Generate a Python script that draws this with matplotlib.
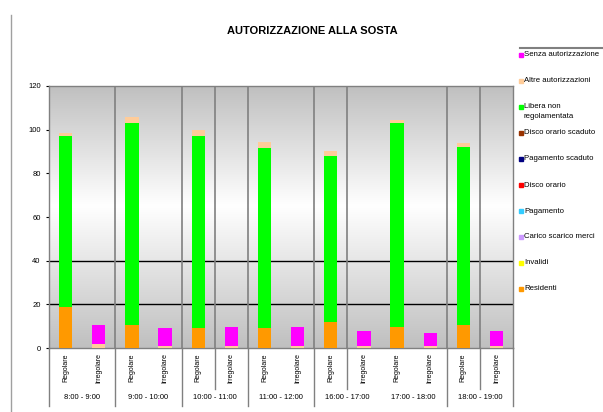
import numpy as np
import matplotlib
matplotlib.use("Agg")
from matplotlib import pyplot as plt
from matplotlib.patches import Rectangle
from matplotlib.lines import Line2D
import matplotlib.transforms as mtransforms

plt.rcParams['font.family'] = ['Liberation Sans', 'DejaVu Sans']

# categorie (coppie Regolare / Irregolare per fascia oraria)
fasce = ["8:00 - 9:00", "9:00 - 10:00", "10:00 - 11:00", "11:00 - 12:00",
         "16:00 - 17:00", "17:00 - 18:00", "18:00 - 19:00"]
tipi = ["Regolare", "Irregolare"]

# serie (dal basso verso l'alto)
residenti     = [19, 0, 10.5, 0, 9, 0, 9, 0, 12, 0, 9.5, 0, 10.5, 0]
invalidi      = [0, 0, 0, 0, 0, 0, 0, 0, 0, 0, 0, 0, 0, 0]
carico        = [0, 0, 0, 0, 0, 0, 0, 0, 0, 0, 0, 0, 0, 0]
pagamento     = [0, 0, 0, 0, 0, 0, 0, 0, 0, 0, 0, 0, 0, 0]
disco         = [0, 0, 0, 0, 0, 0, 0, 0, 0, 0, 0, 0, 0, 0]
pag_scaduto   = [0, 0, 0, 0, 0, 0, 0, 0, 0, 0, 0, 0, 0, 0]
disco_scaduto = [0, 0, 0, 0, 0, 0, 0, 0, 0, 0, 0, 0, 0, 0]
libera        = [78, 0, 92.5, 0, 88, 0, 82.5, 0, 76, 0, 93.5, 0, 81.5, 0]
altre         = [1.5, 2, 3, 1, 2.7, 1, 3, 1, 2, 1, 1.5, 1, 2, 1]
senza         = [0, 8.5, 0, 8, 0, 8.5, 0, 8.5, 0, 6.8, 0, 5.7, 0, 6.8]

serie = [
    ("Residenti", residenti, "#ff9900"),
    ("Invalidi", invalidi, "#ffff00"),
    ("Carico scarico merci", carico, "#cc99ff"),
    ("Pagamento", pagamento, "#33ccff"),
    ("Disco orario", disco, "#ff0000"),
    ("Pagamento scaduto", pag_scaduto, "#000080"),
    ("Disco orario scaduto", disco_scaduto, "#993300"),
    ("Libera non\nregolamentata", libera, "#00ff00"),
    ("Altre autorizzazioni", altre, "#ffcc99"),
    ("Senza autorizzazione", senza, "#ff00ff"),
]

fig = plt.figure(figsize=(6.03, 4.12), dpi=100)
ax = fig.add_axes([0.0813, 0.1553, 0.7695, 0.636])

n = len(fasce) * len(tipi)
x = np.arange(n) + 0.5

# sfondo sfumato grigio-bianco-grigio
v = np.linspace(120, 0, 300)
g = np.where(v > 65, 1 - 0.25 * (v - 65) / 55, 1 - 0.25 * (65 - v) / 65)
ax.imshow(np.dstack([g, g, g]).reshape(300, 1, 3), extent=[0, n, 0, 120],
          aspect='auto', zorder=0)

bottom = np.zeros(n)
for nome, vals, col in serie:
    vals = np.array(vals, dtype=float)
    ax.bar(x, vals, 0.4, bottom=bottom, color=col, zorder=3)
    bottom += vals

for yv in [20, 40]:
    ax.axhline(yv, color='black', lw=1, zorder=2)
for xv in [2, 4, 5, 6, 8, 9, 12, 13]:
    ax.axvline(xv, color='#808080', lw=1.2, zorder=2)

ax.set_xlim(0, n)
ax.set_ylim(0, 120)
ax.set_yticks(range(0, 121, 20))
ax.set_xticks([])
ax.tick_params(axis='y', labelsize=5.5, length=2, color='black', pad=4)
for s in ax.spines.values():
    s.set_color('#808080')
    s.set_linewidth(1)

# etichette a due livelli sotto l'asse
tr = mtransforms.blended_transform_factory(ax.transData, ax.transAxes)
for i in range(n):
    ax.text(x[i], -0.02, tipi[i % 2], rotation=90, ha='center', va='top',
            fontsize=5, transform=tr)
for j, f in enumerate(fasce):
    ax.text(2 * j + 1, -0.19, f, ha='center', va='center', fontsize=5.5,
            transform=tr)
for xv in [0, 2, 4, 6, 8, 12, 14]:
    ax.plot([xv, xv], [0, -0.22], color='#808080', lw=1, transform=tr,
            clip_on=False)
for xv in [5, 9, 13]:
    ax.plot([xv, xv], [0, -0.155], color='#808080', lw=1, transform=tr,
            clip_on=False)

fig.text(312 / 603, 1 - 31 / 412, "AUTORIZZAZIONE ALLA SOSTA", ha='center',
         va='center', fontsize=8, fontweight='bold')

# legenda manuale
fig.add_artist(Line2D([520 / 603, 1], [1 - 48 / 412] * 2, color='#808080',
                      lw=1.5))
fig.add_artist(Line2D([11 / 603, 11 / 603], [0, 1 - 15 / 412],
                      color='#a0a0a0', lw=1))
for k, (nome, vals, col) in enumerate(serie[::-1]):
    yp = 55 + 26 * k
    fig.add_artist(Rectangle((519 / 603, 1 - (yp + 1.8) / 412), 3.5 / 603,
                             3.5 / 412, color=col))
    fig.text(524 / 603, 1 - (yp - 3.5) / 412, nome, ha='left', va='top',
             fontsize=5.6, linespacing=1.5)

fig.savefig("out.png", dpi=100)
